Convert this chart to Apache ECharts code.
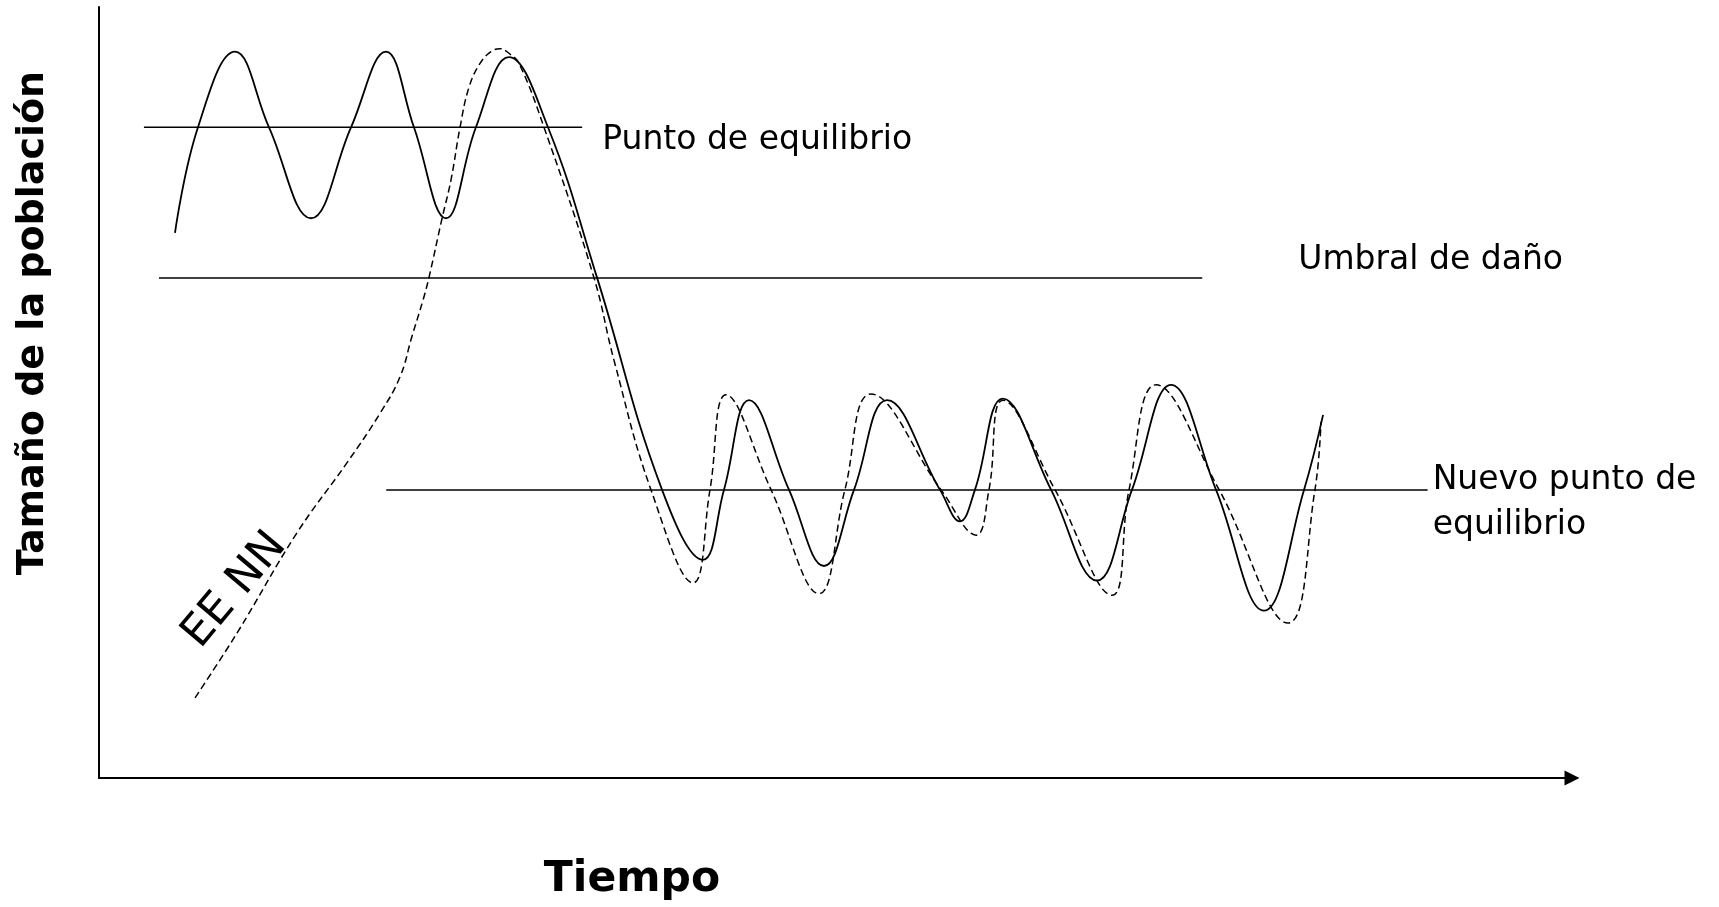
<!DOCTYPE html>
<html>
<head>
<meta charset="utf-8">
<script src="https://cdn.jsdelivr.net/npm/echarts@6/dist/echarts.min.js"></script>
<style>
html,body{margin:0;padding:0;background:#fff;}
#chart{width:1719px;height:907px;}
</style>
</head>
<body>
<div id="chart"></div>
<script>
// Population curve without control (solid): time / population size
const solidX = [5.16, 6.72, 9.23, 11.54, 14.39, 17.11, 19.48, 21.38, 23.56, 25.59, 27.83, 30.48, 33.81, 38.22, 41.00, 42.43, 44.13, 46.84, 49.22, 51.26, 53.50, 57.09, 58.45, 59.47, 61.37, 64.63, 67.75, 70.13, 72.78, 75.83, 79.09, 81.81, 83.10];
const solidY = [70.7, 84.4, 94.2, 84.4, 72.6, 84.4, 94.2, 84.4, 72.6, 84.4, 93.5, 84.4, 64.9, 37.4, 28.3, 37.4, 49.0, 37.4, 27.5, 37.4, 49.0, 37.4, 33.3, 37.4, 49.2, 37.4, 25.6, 37.4, 51.0, 37.4, 21.7, 37.4, 47.1];
// Natural enemies (EE NN) curve (dashed)
const dashedX = [6.52, 9.37, 13.44, 16.84, 19.08, 20.43, 21.25, 22.00, 22.40, 23.29, 23.90, 24.51, 25.12, 25.87, 26.61, 27.22, 27.83, 28.51, 30.21, 33.60, 34.96, 37.47, 40.33, 41.48, 42.57, 45.62, 48.88, 50.64, 52.41, 57.16, 59.54, 60.42, 61.37, 64.90, 68.77, 69.93, 71.76, 76.04, 80.72, 82.55, 82.96];
const dashedY = [10.4, 18.8, 31.8, 40.9, 47.3, 52.0, 57.3, 62.0, 64.9, 72.6, 77.6, 84.4, 89.6, 92.7, 94.2, 94.6, 94.0, 92.7, 84.4, 64.9, 54.2, 37.4, 25.3, 37.4, 49.7, 37.4, 23.9, 37.4, 49.8, 37.4, 31.5, 37.4, 49.0, 37.4, 23.7, 37.4, 51.0, 37.4, 20.1, 37.4, 46.2];
// Reference levels
const puntoEqX = [3.05, 32.8];
const puntoEqY = [84.4, 84.4];
const umbralX = [4.07, 74.9];
const umbralY = [64.85, 64.85];
const nuevoEqX = [19.5, 90.2];
const nuevoEqY = [37.35, 37.35];
// Texts
const levelLabels = ['Punto de equilibrio', 'Umbral de daño', 'Nuevo punto de\nequilibrio'];
const curveLabel = 'EE NN';
const xTitle = 'Tiempo';
const yTitle = 'Tamaño de la población';

const FONT = 'DejaVu Sans';
function pairs(xs, ys) { return xs.map((x, i) => [x, ys[i]]); }
function levelData(xs, ys, text, offset) {
  const d = pairs(xs, ys);
  const last = d.length - 1;
  d[last] = { value: d[last], label: { show: true, position: 'right', distance: 0, offset: offset, formatter: text,
    color: '#000', fontFamily: FONT, fontSize: 33, lineHeight: 45 } };
  return d;
}
const chart = echarts.init(document.getElementById('chart'));
const levelStyle = { color: '#000', width: 1.6 };
chart.setOption({
  animation: false,
  backgroundColor: '#fff',
  grid: { left: 99, right: 147, top: 7, bottom: 129 },
  xAxis: {
    type: 'value', min: 0, max: 100,
    axisLine: { show: true, onZero: false, symbol: ['none', 'triangle'], symbolSize: [15, 15], lineStyle: { color: '#000', width: 2 } },
    axisTick: { show: false }, axisLabel: { show: false }, splitLine: { show: false }
  },
  yAxis: {
    type: 'value', min: 0, max: 100,
    axisLine: { show: true, onZero: false, lineStyle: { color: '#000', width: 2 } },
    axisTick: { show: false }, axisLabel: { show: false }, splitLine: { show: false }
  },
  graphic: [
    { type: 'text', x: 632, y: 880, style: { text: xTitle, font: 'bold 42.5px "DejaVu Sans"', fill: '#000', textAlign: 'center', textVerticalAlign: 'middle' } },
    { type: 'text', x: 33, y: 323, rotation: Math.PI / 2, style: { text: yTitle, font: 'bold 38px "DejaVu Sans"', fill: '#000', textAlign: 'center', textVerticalAlign: 'middle' } }
  ],
  series: [
    { type: 'line', data: levelData(puntoEqX, puntoEqY, levelLabels[0], [20, 13]), showSymbol: true, symbolSize: 0, lineStyle: levelStyle, itemStyle: { color: '#000' } },
    { type: 'line', data: levelData(umbralX, umbralY, levelLabels[1], [96, -18]), showSymbol: true, symbolSize: 0, lineStyle: levelStyle, itemStyle: { color: '#000' } },
    { type: 'line', data: levelData(nuevoEqX, nuevoEqY, levelLabels[2], [5, 12.5]), showSymbol: true, symbolSize: 0, lineStyle: levelStyle, itemStyle: { color: '#000' } },
    { type: 'line', data: pairs(solidX, solidY), smooth: 0.42, showSymbol: false, lineStyle: { color: '#000', width: 1.8 } },
    { type: 'line', data: pairs(dashedX, dashedY), smooth: 0.42, showSymbol: false, lineStyle: { color: '#000', width: 1.5, type: [7, 4] } },
    { type: 'scatter', data: [[9.23, 24.35]], symbolSize: 0, silent: true, itemStyle: { color: '#000', opacity: 1 },
      label: { show: true, position: 'inside', rotate: 50, formatter: curveLabel, color: '#000', opacity: 1, textBorderWidth: 0, fontFamily: FONT, fontSize: 44 } }
  ]
});
</script>
</body>
</html>
